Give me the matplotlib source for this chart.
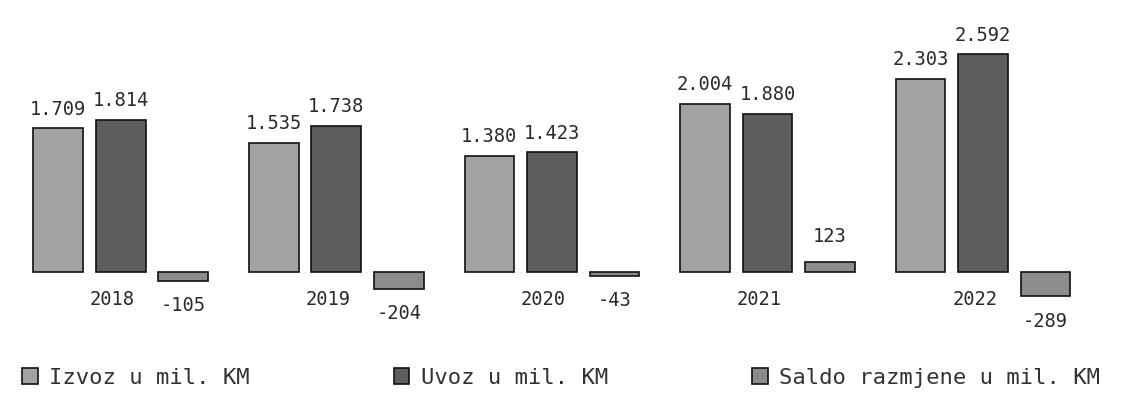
import numpy as np
import matplotlib
matplotlib.use("Agg")
import matplotlib.pyplot as plt

# podaci (mil. KM)
godine = ["2018", "2019", "2020", "2021", "2022"]
izvoz = [1709, 1535, 1380, 2004, 2303]
uvoz = [1814, 1738, 1423, 1880, 2592]
saldo = [-105, -204, -43, 123, -289]

def fmt(v):
    # hiljade odvojene tackom
    return f"{v:,}".replace(",", ".")

plt.rcParams["font.family"] = ["DejaVu Sans Mono", "DejaVu Sans"]

fig = plt.figure(figsize=(11.22, 4.07), dpi=100)
ax = fig.add_axes([0, 67 / 407, 1, 340 / 407])

x = np.arange(len(godine))
w = 0.23
step = 0.29

b1 = ax.bar(x - step, izvoz, w, color="#a3a3a3", edgecolor="#111111", linewidth=1.2,
            label="Izvoz u mil. KM")
b2 = ax.bar(x, uvoz, w, color="#5e5e5e", edgecolor="#111111", linewidth=1.2,
            label="Uvoz u mil. KM")
b3 = ax.bar(x + step, saldo, w, color="#8c8c8c", edgecolor="#111111", linewidth=1.2,
            label="Saldo razmjene u mil. KM")

txt = dict(fontsize=13.5, color="#2a2a2a")
ax.bar_label(b1, labels=[fmt(v) for v in izvoz], padding=7, **txt)
ax.bar_label(b2, labels=[fmt(v) for v in uvoz], padding=7, **txt)
ax.bar_label(b3, labels=[fmt(v) for v in saldo], padding=11, **txt)

for i, g in enumerate(godine):
    ax.annotate(g, (i, 0), xytext=(-6, -20), textcoords="offset points",
                ha="center", va="center", **txt)

ax.set_xlim(-0.56, 4.645)
ax.set_ylim(-810, 3238)
ax.axis("off")

fig.legend(loc="center", bbox_to_anchor=(0.5, 29 / 407), ncol=3, frameon=False,
           fontsize=16, handlelength=0.7, handleheight=0.7, handletextpad=0.5,
           columnspacing=6.5, labelcolor="#333333")

fig.savefig("out.png", dpi=100)
